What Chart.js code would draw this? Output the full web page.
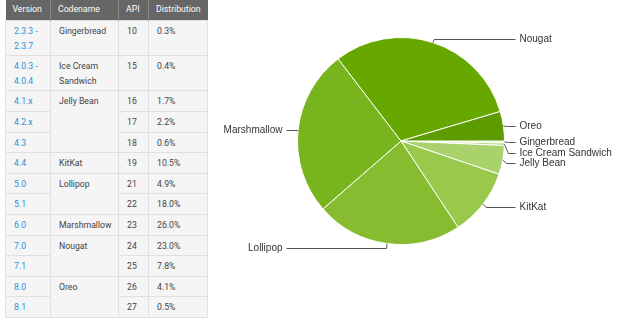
<!DOCTYPE html>
<html>
<head>
<meta charset="utf-8">
<script src="https://cdn.jsdelivr.net/npm/chart.js@4"></script>
<style>
  body { margin: 0; background: #fff; width: 620px; height: 320px; overflow: hidden; position: relative; }
  table { position: absolute; left: 5px; top: 0; width: 202px; border-collapse: collapse; table-layout: fixed;
          font-family: Roboto, sans-serif; font-size: 8.7px; color: #444; }
  th { background: #666; color: #fff; font-weight: normal; text-align: left;
       padding: 2px 7px 3px; line-height: 15px; border-left: 1px solid #888; white-space: nowrap; }
  th:first-child { border-left: none; }
  td { background: #f5f5f5; border: 1px solid #e0e0e0; padding: 3px 8px 2px; line-height: 14.6px;
       vertical-align: top; white-space: pre-line; }
  td.ver { color: #2f8fd8; }
  #pie { position: absolute; left: 210px; top: 0; }
</style>
</head>
<body>
<table id="dist"></table>
<canvas id="pie" width="410" height="320"></canvas>
<script>
const versions = ['2.3.3 -\n2.3.7', '4.0.3 -\n4.0.4', '4.1.x', '4.2.x', '4.3', '4.4', '5.0', '5.1', '6.0', '7.0', '7.1', '8.0', '8.1'];
const codenames = ['Gingerbread', 'Ice Cream\nSandwich', 'Jelly Bean', 'Jelly Bean', 'Jelly Bean', 'KitKat', 'Lollipop', 'Lollipop', 'Marshmallow', 'Nougat', 'Nougat', 'Oreo', 'Oreo'];
const apis = [10, 15, 16, 17, 18, 19, 21, 22, 23, 24, 25, 26, 27];
const distribution = [0.3, 0.4, 1.7, 2.2, 0.6, 10.5, 4.9, 18.0, 26.0, 23.0, 7.8, 4.1, 0.5];

const pieLabels = ['Gingerbread', 'Ice Cream Sandwich', 'Jelly Bean', 'KitKat', 'Lollipop', 'Marshmallow', 'Nougat', 'Oreo'];
const pieColors = ['#cae5a4', '#b9dc88', '#a9d26d', '#98c94c', '#88bc30', '#78b41d', '#66a800', '#5c9c00'];

// table
const table = document.getElementById('dist');
let html = '<colgroup><col style="width:45px"><col style="width:68px"><col style="width:30px"><col style="width:59px"></colgroup>';
html += '<tr><th>Version</th><th>Codename</th><th>API</th><th>Distribution</th></tr>';
for (let i = 0; i < versions.length; i++) {
  html += '<tr><td class="ver">' + versions[i] + '</td>';
  if (i === 0 || codenames[i] !== codenames[i - 1]) {
    let span = 1;
    while (codenames[i + span] === codenames[i]) span++;
    html += '<td rowspan="' + span + '">' + codenames[i] + '</td>';
  }
  html += '<td>' + apis[i] + '</td><td>' + distribution[i].toFixed(1) + '%</td></tr>';
}
table.innerHTML = html;

// sum versions into codename slices
const pieValues = pieLabels.map(name => {
  let s = 0;
  codenames.forEach((c, i) => { if (c.replace('\n', ' ') === name) s += distribution[i]; });
  return Math.round(s * 10) / 10;
});

const leaderLabels = {
  id: 'leaderLabels',
  afterDraw(chart) {
    const ctx = chart.ctx;
    const arcs = chart.getDatasetMeta(0).data;
    const items = arcs.map((arc, i) => {
      const p = arc.getProps(['x', 'y', 'startAngle', 'endAngle', 'outerRadius'], true);
      const mid = (p.startAngle + p.endAngle) / 2;
      const dx = Math.cos(mid), dy = Math.sin(mid);
      return {
        text: pieLabels[i], cx: p.x, cy: p.y, r: p.outerRadius,
        ax: p.x + p.outerRadius * dx, ay: p.y + p.outerRadius * dy,
        ex: p.x + (p.outerRadius + 4) * dx, ey: p.y + (p.outerRadius + 4) * dy,
        right: dx >= 0
      };
    });
    ['right', 'left'].forEach(side => {
      const group = items.filter(it => (side === 'right') === it.right).sort((a, b) => a.ey - b.ey);
      let prev = -Infinity;
      group.forEach(it => {
        it.ly = Math.max(it.ey, prev + 10.6);
        prev = it.ly;
      });
    });
    ctx.save();
    ctx.strokeStyle = '#555';
    ctx.lineWidth = 1;
    ctx.fillStyle = '#333';
    ctx.font = '10px "Liberation Sans", Arial, sans-serif';
    ctx.textBaseline = 'middle';
    items.forEach(it => {
      const y = Math.round(it.ly) + 0.5;
      const endX = it.right ? it.cx + it.r + 11 : it.cx - it.r - 11;
      ctx.beginPath();
      ctx.moveTo(it.ax, it.ay);
      ctx.lineTo(it.ex, y);
      ctx.lineTo(endX, y);
      ctx.stroke();
      ctx.textAlign = it.right ? 'left' : 'right';
      ctx.fillText(it.text, it.right ? endX + 4 : endX - 4, y);
    });
    ctx.restore();
  }
};

new Chart('pie', {
  type: 'pie',
  data: {
    labels: pieLabels,
    datasets: [{
      data: pieValues,
      backgroundColor: pieColors,
      borderColor: '#fff',
      borderWidth: 1
    }]
  },
  options: {
    responsive: false,
    animation: false,
    rotation: 90,
    layout: { padding: { left: 87, right: 115, top: 37, bottom: 75 } },
    plugins: { legend: { display: false }, tooltip: { enabled: false } }
  },
  plugins: [leaderLabels]
});
</script>
</body>
</html>
